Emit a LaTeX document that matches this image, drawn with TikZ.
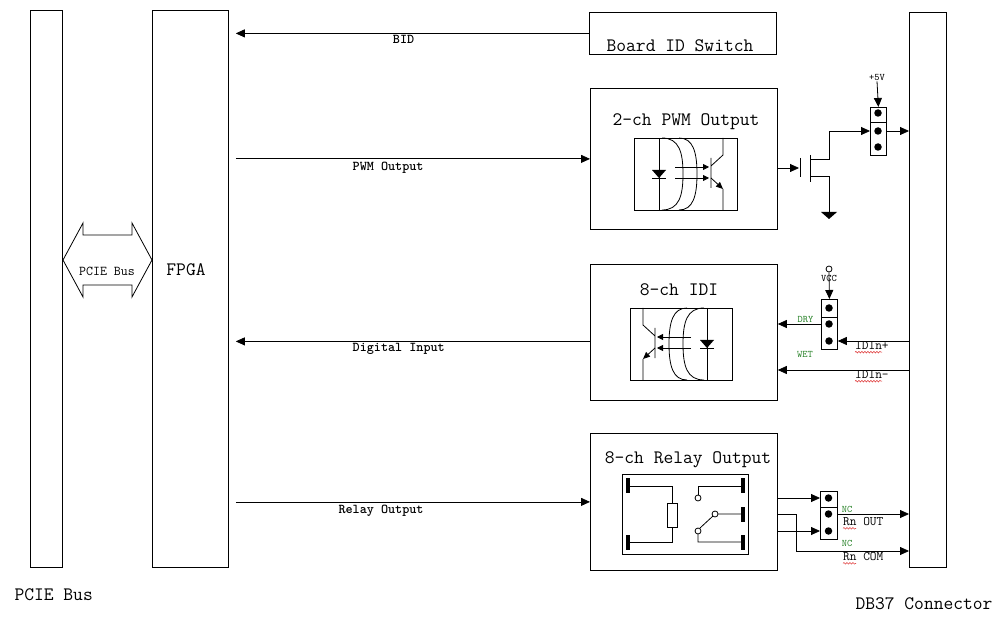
\documentclass[tikz,border=0pt]{standalone}
\usepackage{fontspec}
\renewcommand{\familydefault}{\ttdefault}
\usetikzlibrary{arrows.meta,decorations.pathmorphing}
\definecolor{jumpergreen}{RGB}{40,130,40}
\definecolor{spellred}{RGB}{220,40,40}

\newcommand{\optosym}{%
    \draw[wire] (25,0) -- (25,72) (18,40) -- (32,40);
    \fill (18,32) -- (32,32) -- (25,40) -- cycle;
    \draw[wire] (28,0) .. controls (45,0) and (49,14) .. (49,36) .. controls (49,58) and (45,72) .. (28,72);
    \draw[wire] (45,0) .. controls (59,0) and (63,14) .. (63,36) .. controls (63,58) and (59,72) .. (45,72);
    \draw[wire, -{Triangle[length=6pt,width=6pt]}] (41,29) -- (75,29);
    \draw[wire, -{Triangle[length=6pt,width=6pt]}] (41,40) -- (75,40);
    \draw[wire] (77,20) -- (77,50) (77,28) -- (89,17) -- (89,0) (89,51) -- (89,72);
    \draw[wire, -{Triangle[length=7pt,width=6pt]}] (77,40) -- (89,51);
}

\begin{document}
\begin{tikzpicture}[x=1pt,y=-1pt]
            \tikzstyle{box} = [draw, line width=0.8pt, rectangle, inner sep=0, anchor=north west]
            \tikzstyle{ttl} = [font=\fontsize{19}{21}\selectfont]
            \tikzstyle{bus} = [font=\fontsize{13.5}{15}\selectfont\bfseries, inner sep=1pt]
            \tikzstyle{pinlbl} = [font=\fontsize{13}{14}\selectfont, inner sep=0pt]
            \tikzstyle{tinylbl} = [font=\fontsize{10}{11}\selectfont, inner sep=0pt]
            \tikzstyle{wire} = [line width=0.8pt]
            \tikzstyle{arr} = [line width=0.8pt, -{Triangle[length=9pt,width=8pt]}]
            \tikzstyle{dot} = [circle, fill, inner sep=0, minimum size=7.5pt]
            \tikzstyle{squiggle} = [spellred, line width=0.5pt, decorate, decoration={snake, amplitude=0.8pt, segment length=3pt}]

            \useasboundingbox (0,0) rectangle (1006,617);

            \node[box, minimum width=32, minimum height=557] (pcie) at (30,10) {};
            \node[box, minimum width=76, minimum height=557] (fpga) at (152,10) {};
            \node[box, minimum width=37, minimum height=555] (db37) at (909,12) {};
            \node[box, minimum width=187, minimum height=42] (bidsw) at (589,12) {};
            \node[box, minimum width=187, minimum height=141] (pwm) at (590,88) {};
            \node[box, minimum width=187, minimum height=136] (idi) at (590,264) {};
            \node[box, minimum width=187, minimum height=137] (relay) at (590,433) {};

            \node[ttl] (fpgattl) at (186,270) {FPGA};
            \node[ttl] (bidttl) at (680,46) {Board ID Switch};
            \node[ttl] (pwmttl) at (686,122) {2-ch PWM Output};
            \node[ttl] (idittl) at (679,290) {8-ch IDI};
            \node[ttl] (relayttl) at (688,460) {8-ch Relay Output};
            \node[ttl, anchor=west] (pcielbl) at (11,595) {PCIE Bus};
            \node[ttl] (db37lbl) at (924,604) {DB37 Connector};

            \draw[wire] (63,260) -- (83,223) -- (83,235) -- (132,235) -- (132,223) -- (152,260)
                -- (132,297) -- (132,285) -- (83,285) -- (83,297) -- cycle;
            \node[font=\fontsize{13.5}{15}\selectfont] (busttl) at (107,271) {PCIE Bus};

            \coordinate (fpgain) at ([xshift=7pt]fpga.east);
            \coordinate (diin) at ([yshift=-9pt]idi.west);
            \draw[arr] (bidsw.west) -- (fpgain |- bidsw.west)
                node[bus, pos=0.525, below]{BID};
            \draw[arr] (fpgain |- pwm.west) -- (pwm.west)
                node[bus, pos=0.43, below=2pt]{PWM Output};
            \draw[arr] (diin) -- (fpgain |- diin)
                node[bus, pos=0.54, below=0pt]{Digital Input};
            \draw[arr] (fpgain |- relay.west) -- (relay.west)
                node[bus, pos=0.41, below=2pt]{Relay Output};

            \node[box, minimum width=103, minimum height=72] (pwmopto) at (634,138) {};
            \begin{scope}[shift={(634,138)}]
                \optosym
            \end{scope}
            \node[box, minimum width=102, minimum height=72] (idiopto) at (630,308) {};
            \begin{scope}[shift={(732,308)}, xscale=-1]
                \optosym
            \end{scope}

            \node[box, minimum width=126, minimum height=80] (relaysym) at (622,474) {};
            \draw[line width=3.5pt] (628,478) -- (628,493) (628,535) -- (628,550)
                (743,478) -- (743,493) (743,507) -- (743,522) (743,535) -- (743,550);
            \draw[wire] (628,486) -- (672,486) -- (672,503);
            \draw[wire] (667,503) rectangle (677,527);
            \draw[wire] (672,527) -- (672,542) -- (628,542);
            \draw[wire] (743,486) -- (698,486) -- (698,495);
            \draw[wire] (698,498) circle (3);
            \draw[wire] (715,514) circle (3) (718,514) -- (743,514);
            \draw[wire] (698,531) circle (3) (698,534) -- (698,542) -- (743,542);
            \draw[wire] (700,528) -- (713,516);

            \node[box, minimum width=16, minimum height=48] (jpwm) at (870,107) {};
            \node[dot] (jpwm1) at (878,113) {};
            \node[dot] (jpwm2) at (878,131) {};
            \node[dot] (jpwm3) at (878,147) {};
            \draw[wire] (jpwm.west |- 0,122) -- (jpwm.east |- 0,122);
            \node[tinylbl] (p5v) at (877,78) {+5V};
            \draw[arr] (p5v.south) -- (jpwm.north);
            \draw[arr] (jpwm.east |- jpwm2) -- (db37.west |- jpwm2);

            \coordinate (gate) at (799,168);
            \draw[arr] (pwm.east |- gate) -- (gate);
            \draw[wire] (800,158) -- (800,177);
            \draw[wire] (810,155) -- (810,182);
            \draw[arr] (810,159) -- (829,159) -- (829,131) -- (jpwm.west |- jpwm2);
            \draw[wire] (810,176) -- (829,176) -- (829,212);
            \fill (821,212) -- (837,212) -- (829,219) -- cycle;

            \node[box, minimum width=16, minimum height=50] (jidi) at (821,299) {};
            \node[dot] (jidi1) at (829,308) {};
            \node[dot] (jidi2) at (829,324) {};
            \node[dot] (jidi3) at (829,341) {};
            \draw[wire] (jidi.west |- 0,317) -- (jidi.east |- 0,317);
            \node[circle, draw, wire, inner sep=0, minimum size=6pt] (vcc) at (829,269) {};
            \node[tinylbl] (vcclbl) at (829,278) {VCC};
            \draw[arr] (vcc.south) -- (jidi.north);
            \draw[arr] (jidi.west |- jidi2) -- (idi.east |- jidi2)
                node[tinylbl, text=jumpergreen, pos=0.36, above=1pt]{DRY};
            \node[tinylbl, text=jumpergreen] (wet) at (805,354) {WET};
            \draw[arr] (db37.west |- jidi3) -- (jidi.east |- jidi3);
            \node[pinlbl, anchor=west] (idinp) at (855,346) {IDIn+};
            \coordinate (idinm) at (db37.west |- 0,370);
            \draw[arr] (idinm) -- (idi.east |- idinm);
            \node[pinlbl, anchor=west] (idinn) at (855,375) {IDIn-};
            \draw[squiggle] ([yshift=-2pt]idinp.south west) -- ++(27,0);
            \draw[squiggle] ([yshift=-2pt]idinn.south west) -- ++(27,0);

            \node[box, minimum width=17, minimum height=48] (jrel) at (820,491) {};
            \node[dot] (jrel1) at (828.5,498) {};
            \node[dot] (jrel2) at (828.5,514) {};
            \node[dot] (jrel3) at (828.5,531) {};
            \draw[wire] (jrel.west |- 0,507) -- (jrel.east |- 0,507);
            \draw[arr] (relay.east |- jrel1) -- (jrel.west |- jrel1);
            \draw[arr] (relay.east |- jrel3) -- (jrel.west |- jrel3);
            \coordinate (rncom) at (db37.west |- 0,551);
            \draw[arr] (relay.east |- jrel2) -- (796,514) -- (796,551) -- (rncom);
            \draw[arr] (jrel.east |- jrel2) -- (db37.west |- jrel2);
            \node[tinylbl, text=jumpergreen] (nc1) at (847,509) {NC};
            \node[tinylbl, text=jumpergreen] (nc2) at (847,543) {NC};
            \node[pinlbl, anchor=west] (rnout) at (843,522) {Rn OUT};
            \node[pinlbl, anchor=west] (rncomlbl) at (843,557) {Rn COM};
            \draw[squiggle] ([yshift=-2pt]rnout.south west) -- ++(13,0);
            \draw[squiggle] ([yshift=-2pt]rncomlbl.south west) -- ++(13,0);
\end{tikzpicture}
\end{document}
